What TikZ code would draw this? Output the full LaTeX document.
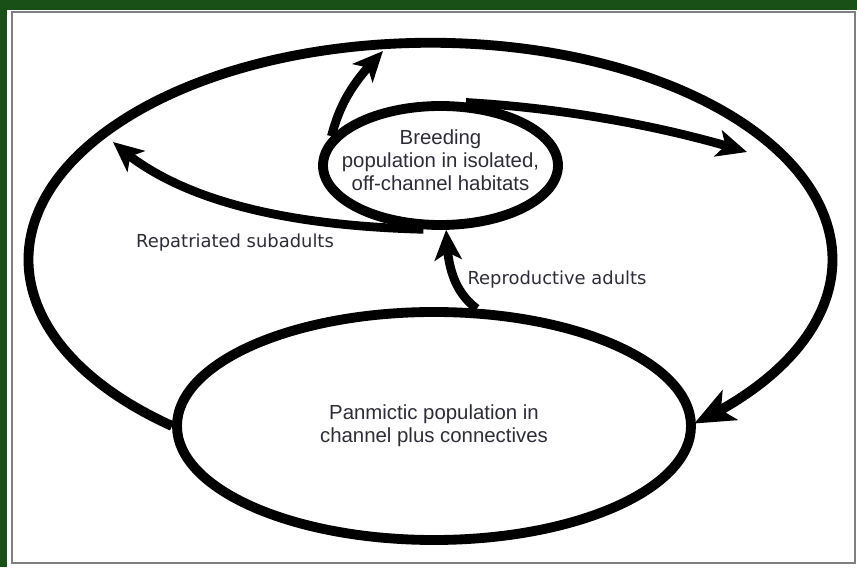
\documentclass[tikz,border=0pt]{standalone}
\usepackage{xcolor}
\usepackage{fontspec}
\setmainfont{Liberation Sans}
\newfontfamily\labfont{DejaVu Sans}
\usepackage{tikz}
\usetikzlibrary{arrows.meta,bending,shapes.geometric}
\definecolor{leafgreen}{RGB}{24,80,24}
\definecolor{inkgray}{RGB}{45,45,55}
\tikzset{>={Stealth[length=0.6cm,width=0.54cm,inset=0.15cm]}}
\tikzset{
  pop/.style={ellipse, draw=black, line width=5.6pt},
  poptext/.style={align=center, text=inkgray, font=\fontsize{11.6}{13}\selectfont},
  flow/.style={->, line width=5pt},
  lab/.style={text=inkgray, font=\labfont\fontsize{10.2}{12}\selectfont}
}

\begin{document}
\begin{tikzpicture}

    % Background and frame
    \useasboundingbox (0,0) rectangle (17.14,11.34);
    \fill[leafgreen] (0,0) rectangle (17.14,11.34);
    \fill[white] (0.14,0) rectangle (17.14,11.14);
    \draw[gray, line width=1pt] (0.24,0.08) rectangle (17.10,11.10);

    % Draw the two populations
    \node[pop, minimum width=4.7cm, minimum height=2.38cm] (breed) at (8.81,8.03) {};
    \node[pop, minimum width=10.28cm, minimum height=4.56cm] (pan) at (8.68,2.82) {};

    % Texts inside them
    \node[poptext] (breedtxt) at (8.81,8.14) {Breeding\\population in isolated,\\off-channel habitats};
    \node[poptext] (pantxt) at (pan) {Panmictic population in\\channel plus connectives};

    % Loose ends of the arrows
    \coordinate (uptip) at (7.66,10.32);
    \coordinate (righttip) at (14.94,8.30);
    \coordinate (lefttip) at (2.26,8.50);

    % Big loop back to the channel
    \draw[line width=5.6pt, -{Stealth[length=0.8cm,width=0.66cm,inset=0.2cm]}] (pan.west) arc[start angle=230, end angle=-49, x radius=8.04cm, y radius=4.34cm];

    % Arrows out of and into the breeding population
    \draw[flow] (breed.165) .. controls (6.82,9.34) and (7.10,9.74) .. (uptip);
    \draw[flow] (breed.68) .. controls (11.2,9.18) and (13.2,8.84) .. (righttip);
    \draw[flow] (breed.255) .. controls (6.0,6.82) and (3.6,7.24) .. (lefttip);
    \draw[flow] (pan.70) .. controls (9.04,5.54) and (8.94,6.10) .. (breed.-85);

    % Labels
    \node[lab] (repat) at (4.70,6.48) {Repatriated subadults};
    \node[lab] (repro) at (11.14,5.74) {Reproductive adults};

\end{tikzpicture}
\end{document}
